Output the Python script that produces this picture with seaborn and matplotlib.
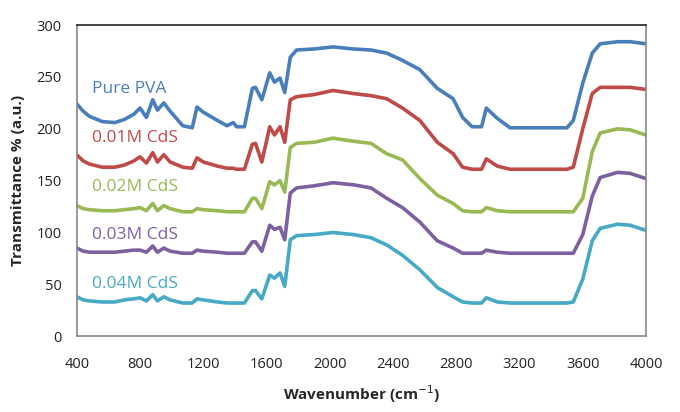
import pandas as pd
import numpy as np
import matplotlib
matplotlib.use("Agg")
import matplotlib.pyplot as plt
import seaborn as sns

# FTIR spectra
wavenumber = [400, 440, 480, 560, 640, 700, 760, 800, 840, 880, 910, 950, 990,
              1070, 1130, 1160, 1200, 1290, 1350, 1390, 1410, 1460, 1510, 1530,
              1570, 1620, 1650, 1685, 1715, 1750, 1790, 1900, 2020, 2150, 2260,
              2360, 2460, 2570, 2680, 2780, 2840, 2900, 2960, 2990, 3060, 3140,
              3500, 3540, 3600, 3660, 3710, 3820, 3900, 4000]

pure_pva = [224, 217, 212, 207, 206, 209, 214, 220, 211, 228, 218, 225, 217,
            203, 201, 221, 216, 208, 203, 206, 202, 202, 239, 240,
            228, 254, 245, 249, 235, 269, 276, 277, 279, 277, 276,
            273, 266, 257, 239, 229, 211, 202, 202, 220, 210, 201,
            201, 208, 244, 273, 282, 284, 284, 282]

cds_001 = [175, 169, 166, 163, 163, 165, 169, 173, 167, 177, 168, 175, 168,
           163, 162, 172, 168, 164, 162, 162, 161, 161, 185, 186,
           168, 202, 194, 202, 187, 228, 231, 233, 237, 234, 232,
           229, 220, 208, 187, 176, 163, 161, 161, 171, 164, 161,
           161, 163, 200, 234, 240, 240, 240, 238]

cds_002 = [126, 123, 122, 121, 121, 122, 123, 124, 121, 128, 121, 126, 123,
           120, 120, 123, 122, 121, 120, 120, 120, 120, 133, 133,
           123, 149, 146, 150, 139, 182, 186, 187, 191, 188, 186,
           176, 170, 152, 136, 128, 121, 120, 120, 124, 121, 120,
           120, 120, 133, 178, 196, 200, 199, 194]

cds_003 = [85, 82, 81, 81, 81, 82, 83, 83, 81, 87, 81, 85, 82,
           80, 80, 83, 82, 81, 80, 80, 80, 80, 91, 91,
           82, 107, 103, 105, 93, 138, 143, 145, 148, 146, 143,
           133, 124, 110, 92, 85, 80, 80, 80, 83, 81, 80,
           80, 80, 98, 135, 153, 158, 157, 152]

cds_004 = [38, 35, 34, 33, 33, 35, 36, 37, 34, 40, 34, 38, 35,
           32, 32, 36, 35, 33, 32, 32, 32, 32, 44, 44,
           36, 59, 56, 61, 48, 93, 97, 98, 100, 98, 95,
           88, 78, 64, 47, 38, 33, 32, 32, 37, 33, 32,
           32, 33, 55, 92, 104, 108, 107, 102]

labels = ["Pure PVA", "0.01M CdS", "0.02M CdS", "0.03M CdS", "0.04M CdS"]
label_y = [238, 191, 144, 98, 50]
colors = ["#4a7ebb", "#be4b48", "#98b954", "#7d60a0", "#46aac5"]

series = [pure_pva, cds_001, cds_002, cds_003, cds_004]
df = pd.concat([pd.DataFrame({"Wavenumber": wavenumber, "T": s, "Sample": name})
                for name, s in zip(labels, series)])

sns.set_style("white")
plt.rcParams["font.family"] = ["Open Sans", "DejaVu Sans"]

fig = plt.figure(figsize=(6.8, 4.12), dpi=100)
ax = fig.add_axes([0.113, 0.184, 0.837, 0.755])

sns.lineplot(data=df, x="Wavenumber", y="T", hue="Sample", palette=colors,
             linewidth=2.6, legend=False, ax=ax, sort=False)

for name, y, c in zip(labels, label_y, colors):
    ax.text(495, y, name, color=c, fontsize=12.5, va="center", ha="left")

ax.set_xlim(400, 4000)
ax.set_ylim(0, 300)
ax.set_xticks(np.arange(400, 4001, 400))
ax.set_yticks(np.arange(0, 301, 50))
ax.tick_params(axis="both", direction="out", length=5, color="#888888",
               labelsize=10.5, labelcolor="#222222", width=1, pad=6)
ax.tick_params(axis="x", pad=10)

for side in ["left", "bottom", "right"]:
    ax.spines[side].set_color("#888888")
    ax.spines[side].set_linewidth(1.2)
ax.spines["top"].set_color("#222222")
ax.spines["top"].set_linewidth(1.2)

ax.set_xlabel("Wavenumber (cm$^{-1}$)", fontsize=11, fontweight="bold", labelpad=8)
ax.set_ylabel("Transmittance % (a.u.)", fontsize=11, fontweight="bold", labelpad=8)

fig.savefig("out.png", dpi=100)
